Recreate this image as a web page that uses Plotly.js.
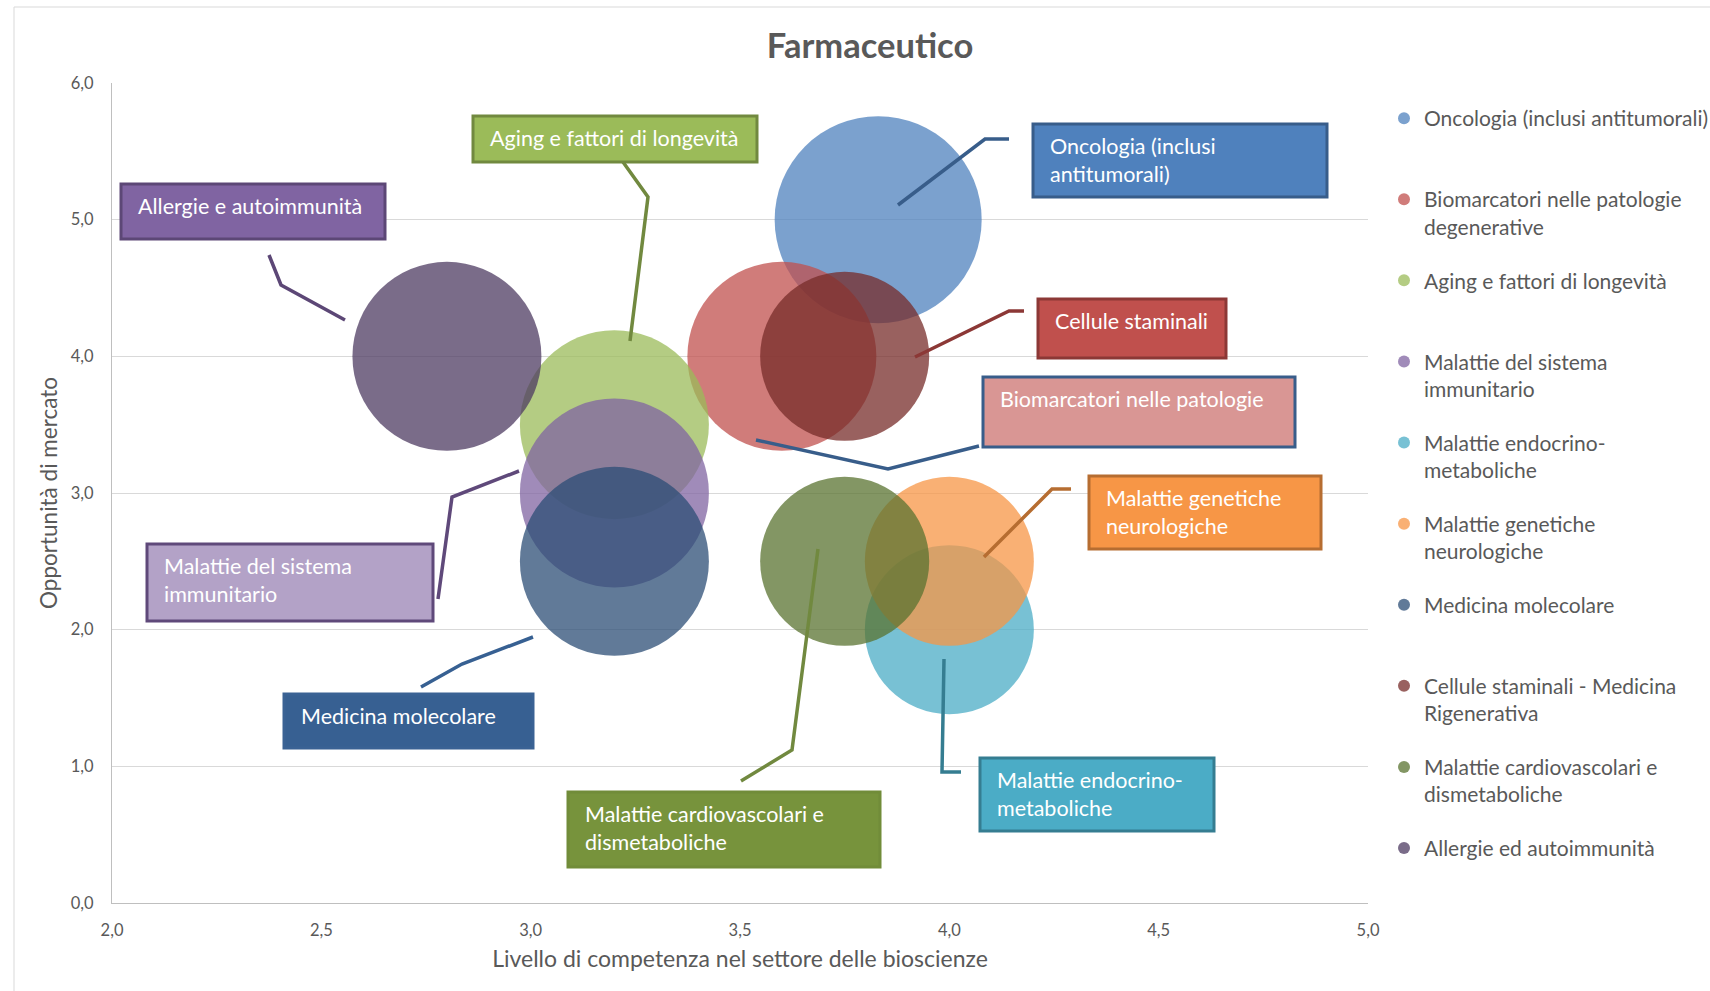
<!DOCTYPE html>
<html>
<head>
<meta charset="utf-8">
<script src="https://cdn.plot.ly/plotly-3.0.1.min.js"></script>
<style>html,body{margin:0;padding:0;background:#fff;}#chart{width:1710px;height:991px;}</style>
</head>
<body>
<div id="chart"></div>
<script>
// ---- data ----
const seriesNames = [
  "Oncologia (inclusi antitumorali)",
  "Biomarcatori nelle patologie degenerative",
  "Aging e fattori di longevità",
  "Malattie del sistema immunitario",
  "Malattie endocrino-metaboliche",
  "Malattie genetiche neurologiche",
  "Medicina molecolare",
  "Cellule staminali - Medicina Rigenerativa",
  "Malattie cardiovascolari e dismetaboliche",
  "Allergie ed autoimmunità"
];
const legendLabels = [
  "Oncologia (inclusi antitumorali)<br>\u00a0",
  "Biomarcatori nelle patologie<br>degenerative",
  "Aging e fattori di longevità<br>\u00a0",
  "Malattie del sistema<br>immunitario",
  "Malattie endocrino-<br>metaboliche",
  "Malattie genetiche<br>neurologiche",
  "Medicina molecolare<br>\u00a0",
  "Cellule staminali - Medicina<br>Rigenerativa",
  "Malattie cardiovascolari e<br>dismetaboliche",
  "Allergie ed autoimmunità<br>\u00a0"
];
const competenza = [3.83, 3.6, 3.2, 3.2, 4.0, 4.0, 3.2, 3.75, 3.75, 2.8];
const opportunita = [5.0, 4.0, 3.5, 3.0, 2.0, 2.5, 2.5, 4.0, 2.5, 4.0];
const dimensione = [3, 2.5, 2.5, 2.5, 2, 2, 2.5, 2, 2, 2.5];
const xTicks = [2.0, 2.5, 3.0, 3.5, 4.0, 4.5, 5.0];
const yTicks = [0, 1, 2, 3, 4, 5, 6];

// ---- styles ----
const seriesColors = ["#4F81BD","#C0504D","#9BBB59","#8064A2","#4BACC6","#F79646","#2C4D75","#772C2A","#5A7330","#4D3B62"];
const FONT = "Lato, 'Open Sans', sans-serif";
const GREY = "#595959";

// plot area in pixels
const W = 1710, H = 991, L = 112, R = 1368, T = 83, B = 903;
const px = v => (v - L) / (R - L);
const py = v => (B - v) / (B - T);

const traces = seriesNames.map((n, i) => ({
  type: "scatter",
  mode: "markers",
  name: legendLabels[i],
  legendgroup: "g" + i,
  x: [competenza[i]],
  y: [opportunita[i]],
  text: [n],
  hovertemplate: "%{text}<br>%{x:.1f}; %{y:.1f}<extra></extra>",
  marker: {
    size: [dimensione[i]],
    sizemode: "area",
    sizeref: 1.4e-4,
    color: seriesColors[i],
    opacity: 0.75,
    line: {width: 0}
  },
  cliponaxis: false
}));

// callout boxes (pixel layout)
const callouts = [
  {box:[121,184,385,239], fill:"#8064A2", line:"#5C4776", text:"Allergie e autoimmunità", path:[[269,255],[281,285],[345,320]], conn:"#5C4776"},
  {box:[473,116,757,162], fill:"#9BBB59", line:"#71893F", text:"Aging e fattori di longevità", path:[[623,162],[648,197],[630,341]], conn:"#71893F"},
  {box:[1033,124,1327,197], fill:"#4F81BD", line:"#385D8A", text:"Oncologia (inclusi<br>antitumorali)", path:[[1009,139],[985,139],[898,205]], conn:"#385D8A"},
  {box:[1038,299,1226,358], fill:"#C0504D", line:"#8C3836", text:"Cellule staminali", path:[[1024,311],[1009,311],[915,357]], conn:"#8C3836"},
  {box:[983,377,1295,447], fill:"#D99694", line:"#385D8A", text:"Biomarcatori nelle patologie", path:[[979,446],[888,469],[756,440]], conn:"#385D8A"},
  {box:[1089,476,1321,549], fill:"#F79646", line:"#B66D31", text:"Malattie genetiche<br>neurologiche", path:[[1071,489],[1052,489],[984,557]], conn:"#B66D31"},
  {box:[980,758,1214,831], fill:"#4BACC6", line:"#357D91", text:"Malattie endocrino-<br>metaboliche", path:[[961,772],[942,772],[944,659]], conn:"#357D91"},
  {box:[568,792,880,867], fill:"#77933C", line:"#718C39", text:"Malattie cardiovascolari e<br>dismetaboliche", path:[[741,781],[792,750],[818,549]], conn:"#71893F"},
  {box:[284,694,533,748], fill:"#376092", line:"#3A6294", text:"Medicina molecolare", path:[[421,687],[462,664],[533,637]], conn:"#376092"},
  {box:[147,544,433,621], fill:"#B3A2C7", line:"#5F497A", text:"Malattie del sistema<br>immunitario", path:[[438,599],[452,497],[519,471]], conn:"#5F497A"}
];

const shapes = [
  // outer chart frame
  {type:"rect", xref:"paper", yref:"paper", x0:px(14), x1:px(1716), y0:py(998), y1:py(7),
   line:{color:"#D9D9D9", width:1}, fillcolor:"rgba(0,0,0,0)", layer:"below"}
];
const annotations = [];
callouts.forEach(c => {
  const [x0,y0,x1,y1] = c.box;
  const d = c.path.map((p,k) => (k ? "L" : "M") + px(p[0]) + "," + py(p[1])).join(" ");
  shapes.push({type:"path", xref:"paper", yref:"paper", path:d, line:{color:c.conn, width:3.5}, layer:"above"});
  shapes.push({type:"rect", xref:"paper", yref:"paper", x0:px(x0), x1:px(x1), y0:py(y1), y1:py(y0),
    fillcolor:c.fill, line:{color:c.line, width:3}, layer:"above"});
  annotations.push({xref:"paper", yref:"paper", x:px(x0+15), y:py(y0+7), xanchor:"left", yanchor:"top",
    align:"left", showarrow:false, text:c.text, font:{family:FONT, size:21.5, color:"#FFFFFF"}});
});

const layout = {
  width: W, height: H,
  margin: {l: L, r: W - R, t: T, b: H - B, pad: 0, autoexpand: false},
  paper_bgcolor: "#FFFFFF",
  plot_bgcolor: "#FFFFFF",
  separators: ",.",
  font: {family: FONT, color: GREY},
  title: {text: "<b>Farmaceutico</b>", font: {family: FONT, size: 34.5, color: GREY},
          xref: "container", yref: "container", x: 870 / W, y: 1 - 46 / H, xanchor: "center", yanchor: "middle"},
  xaxis: {
    range: [2, 5], tickvals: xTicks, tickformat: ".1f",
    showgrid: false, zeroline: false, showline: true, linecolor: "#BFBFBF", linewidth: 1,
    ticks: "", tickfont: {family: FONT, size: 16.5, color: GREY}, ticklabelstandoff: 12,
    title: {text: "Livello di competenza nel settore delle bioscienze", font: {family: FONT, size: 23, color: GREY}, standoff: 12}
  },
  yaxis: {
    range: [0, 6], tickvals: yTicks, tickformat: ".1f",
    showgrid: true, gridcolor: "#D9D9D9", gridwidth: 1, zeroline: false,
    showline: true, linecolor: "#BFBFBF", linewidth: 1,
    ticks: "", tickfont: {family: FONT, size: 16.5, color: GREY}, ticklabelstandoff: 14,
    title: {text: "Opportunità di mercato", font: {family: FONT, size: 22.5, color: GREY}, standoff: 6}
  },
  showlegend: true,
  legend: {
    x: px(1384), xanchor: "left", y: py(98), yanchor: "top",
    font: {family: FONT, size: 21, color: GREY},
    itemsizing: "constant", valign: "top",
    tracegroupgap: 23.5, bgcolor: "rgba(0,0,0,0)", borderwidth: 0,
    itemclick: false, itemdoubleclick: false
  },
  shapes: shapes,
  annotations: annotations,
  hovermode: "closest"
};

Plotly.newPlot("chart", traces, layout, {displayModeBar: false, responsive: false});
</script>
</body>
</html>
